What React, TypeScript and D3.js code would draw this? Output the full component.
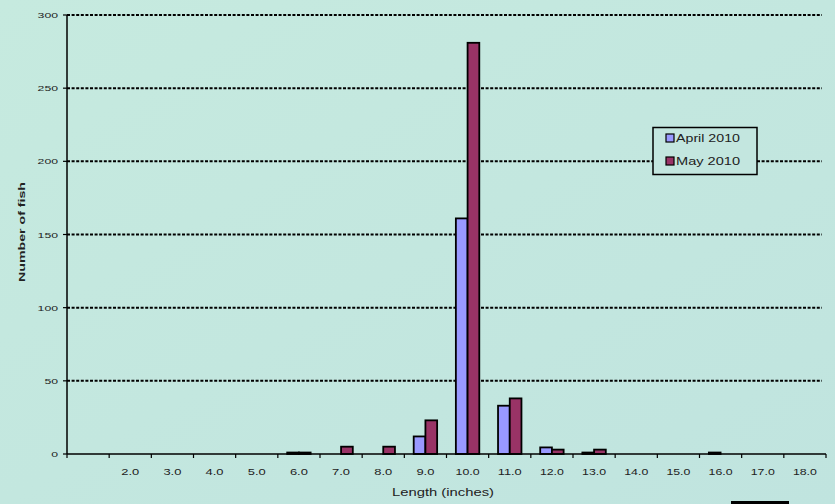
import React, { useEffect, useRef } from "react";
import * as d3 from "d3";

const categories = ["1.0","2.0","3.0","4.0","5.0","6.0","7.0","8.0","9.0","10.0","11.0","12.0","13.0","14.0","15.0","16.0","17.0","18.0"];
const tickLabels = ["","2.0","3.0","4.0","5.0","6.0","7.0","8.0","9.0","10.0","11.0","12.0","13.0","14.0","15.0","16.0","17.0","18.0"];
const seriesNames = ["April 2010", "May 2010"];
const april = [0,0,0,0,0,1,0,0,12,161,33,4.5,1,0,0,1,0,0];
const may = [0,0,0,0,0,1,5,5,23,281,38,3,3,0,0,0,0,0];
const yTicks = [0,50,100,150,200,250,300];
const colors = ["#9999ff", "#993366"];

const W = 835, H = 504;
const left = 67, right = 826, top = 15, bottom = 454;
const FONT = "Liberation Sans, Arial, sans-serif";

export default function App() {
  const ref = useRef<SVGSVGElement>(null);
  useEffect(() => {
    const svg = d3.select(ref.current);
    svg.selectAll("*").remove();
    const defs = svg.append("defs");
    const g0 = defs.append("linearGradient").attr("id", "bg").attr("x1", 0).attr("y1", 0).attr("x2", 1).attr("y2", 1);
    g0.append("stop").attr("offset", "0%").attr("stop-color", "#c6eadf");
    g0.append("stop").attr("offset", "100%").attr("stop-color", "#c0e4df");
    svg.append("rect").attr("width", W).attr("height", H).attr("fill", "url(#bg)");

    const x = d3.scaleBand<string>().domain(categories).range([left, right]).paddingInner(0).paddingOuter(0);
    const x1 = d3.scaleBand<string>().domain(seriesNames).range([0, x.bandwidth()]).paddingInner(0).paddingOuter(0.8);
    const y = d3.scaleLinear().domain([0, 300]).range([bottom, top]);

    // gridlines
    svg.append("g").selectAll("line").data(yTicks.filter(d => d > 0)).join("line")
      .attr("x1", left).attr("x2", 822)
      .attr("y1", d => y(d)).attr("y2", d => y(d))
      .attr("stroke", "#000").attr("stroke-width", 2).attr("stroke-dasharray", "3,1.6");

    // bars
    const data = [april, may];
    data.forEach((vals, si) => {
      svg.append("g").selectAll("rect").data(vals.map((v, i) => ({ v, c: categories[i] })).filter(d => d.v > 0)).join("rect")
        .attr("x", d => (x(d.c) as number) + (x1(seriesNames[si]) as number))
        .attr("width", x1.bandwidth())
        .attr("y", d => y(d.v))
        .attr("height", d => bottom - y(d.v))
        .attr("fill", colors[si])
        .attr("stroke", "#000").attr("stroke-width", 1.8);
    });

    // y axis
    svg.append("line").attr("x1", left).attr("x2", left).attr("y1", top).attr("y2", bottom).attr("stroke", "#000").attr("stroke-width", 1.5);
    const yg = svg.append("g");
    yg.selectAll("line").data(yTicks).join("line")
      .attr("x1", left - 4).attr("x2", left).attr("y1", d => y(d)).attr("y2", d => y(d))
      .attr("stroke", "#000").attr("stroke-width", 1.2);
    yg.selectAll("text").data(yTicks).join("text")
      .attr("x", 58).attr("y", d => y(d) + 3)
      .attr("text-anchor", "end")
      .attr("font-family", FONT).attr("font-size", 8)
      .attr("textLength", d => String(d).length * 6.8).attr("lengthAdjust", "spacingAndGlyphs")
      .attr("fill", "#222")
      .text(d => String(d));

    // x axis
    svg.append("line").attr("x1", left).attr("x2", right).attr("y1", bottom).attr("y2", bottom).attr("stroke", "#000").attr("stroke-width", 1.5);
    const bounds = categories.map(c => x(c) as number).concat([right]);
    svg.append("g").selectAll("line").data(bounds).join("line")
      .attr("x1", d => d).attr("x2", d => d).attr("y1", bottom).attr("y2", bottom + 4)
      .attr("stroke", "#000").attr("stroke-width", 1.2);
    svg.append("g").selectAll("text").data(categories.filter((c, i) => tickLabels[i] !== "")).join("text")
      .attr("x", d => (x(d) as number) + x.bandwidth() / 2)
      .attr("y", 475)
      .attr("text-anchor", "middle")
      .attr("font-family", FONT).attr("font-size", 8.5)
      .attr("textLength", d => tickLabels[categories.indexOf(d)].length * 6)
      .attr("lengthAdjust", "spacingAndGlyphs")
      .attr("fill", "#222")
      .text(d => tickLabels[categories.indexOf(d)]);

    // axis titles
    svg.append("text").attr("x", 443).attr("y", 496)
      .attr("text-anchor", "middle")
      .attr("font-family", FONT).attr("font-size", 10)
      .attr("textLength", 102).attr("lengthAdjust", "spacingAndGlyphs")
      .attr("fill", "#222").text("Length (inches)");
    svg.append("text").attr("transform", "translate(25,232) rotate(-90)")
      .attr("text-anchor", "middle")
      .attr("font-family", FONT).attr("font-size", 9).attr("font-weight", "bold")
      .attr("textLength", 100).attr("lengthAdjust", "spacingAndGlyphs")
      .attr("fill", "#222").text("Number of fish");

    // legend
    const lg = svg.append("g");
    lg.append("rect").attr("x", 653).attr("y", 127.5).attr("width", 104).attr("height", 47)
      .attr("fill", "#c3e6df").attr("stroke", "#000").attr("stroke-width", 1.5);
    seriesNames.forEach((s, i) => {
      const yy = 138 + i * 23;
      lg.append("rect").attr("x", 666).attr("y", yy - 4).attr("width", 8).attr("height", 8)
        .attr("fill", colors[i]).attr("stroke", "#000").attr("stroke-width", 1.2);
      lg.append("text").attr("x", 676).attr("y", yy + 4)
        .attr("font-family", FONT).attr("font-size", 11)
        .attr("textLength", 64).attr("lengthAdjust", "spacingAndGlyphs")
        .attr("fill", "#222").text(s);
    });

    // decorative black bar at bottom right
    svg.append("rect").attr("x", 731).attr("y", 501).attr("width", 58).attr("height", 3).attr("fill", "#000");
  }, []);
  return <svg ref={ref} width={W} height={H} style={{ position: "absolute", left: 0, top: 0, display: "block" }} />;
}
